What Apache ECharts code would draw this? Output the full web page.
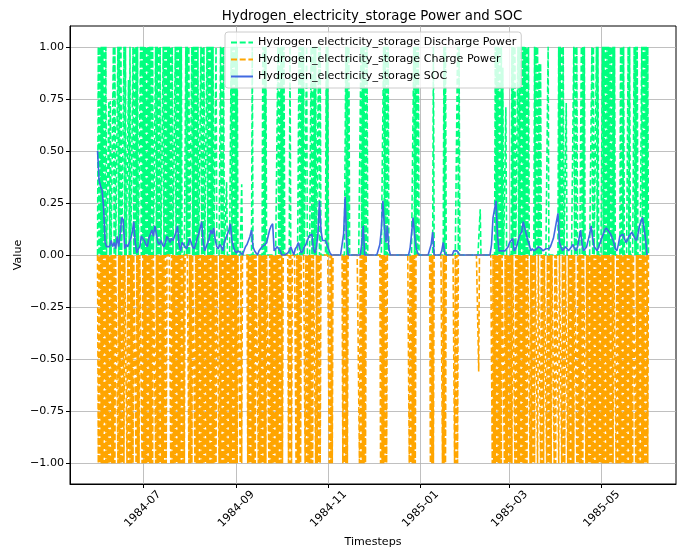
<!DOCTYPE html>
<html>
<head>
<meta charset="utf-8">
<script src="https://cdn.jsdelivr.net/npm/echarts@6/dist/echarts.min.js"></script>
<style>
  html, body { margin: 0; padding: 0; background: #ffffff; }
  #chart { width: 689px; height: 550px; }
</style>
</head>
<body>
<div id="chart"></div>
<script>
// Daily storage profile, 1984-06-01 .. 1985-05-31 (365 days)
const startDate = '1984-06-01';

// Peak discharge power per day (normalised, 0..1)
const dischargeDaily = [
  1,1,1,1,1,1,0,0.74,0.74,0,   1,1,0,1,1,1,0,1,1,0,
  0.84,1,0,1,1,1,1,0,1,1,      1,1,1,1,1,1,1,0,1,1,
  1,1,0,1,1,1,1,1,1,1,         0,1,1,1,1,1,0,0,1,1,
  1,0,1,1,1,1,1,0,1,1,         1,0,1,1,1,1,1,0,1,0,
  0,1,1,1,0,0.35,0,0,1,1,      1,1,1,0,0,0.34,0,0,0,0,
  0,0,1,0,0,0,0,0,0,1,         1,1,0,0,0,0,0,0,0,1,
  1,1,1,1,0,0,0,1,0,0,         0,0,0,1,1,1,1,0,1,0,
  0,1,1,1,1,0,1,1,0,0,         0,1,1,0,0,0,0,0,0,0,
  0,0,0,0,1,1,1,0,0,0,         0,0,0,0,1,1,1,1,1,0,
  0,0,0,0,0,0,0,0,0,1,         1,1,1,0,0,0,0,0,0,0,
  0,0,0,0,0,0,0,0,0,1,         1,1,1,0,0,0,0,0,0,0,
  0,0,1,0,0,0,0,0,0,1,         1,0,0,0,0,0,0,0,1,1,
  0,0,0,0,0,0,0,0,0,0,         0,0,0,0.22,0,0,0,0,0,0,
  0,0,0,1,1,1,1,1,0.9,0,       0.71,0,0,0,1,1,1,0,1,1,
  1,1,1,1,1,1,0,0,0,1,         1,1,0.92,0.92,0,0,0,0,1,0,
  0,0,0,0,0,1,1,1,1,0,         0.73,0,0,0,0,1,1,1,0,0,
  1,1,1,0,0,0,0,1,1,0,         1,1,0,0,1,1,1,1,1,1,
  1,1,1,0,0,0,1,1,1,0,         0,1,1,0,0,1,1,1,0,0,
  1,1,1,1,1
];

// Peak charge power per day (magnitude, drawn as negative)
const chargeDaily = [
  1,1,1,1,1,1,1,1,1,1,         1,1,0,1,1,1,1,1,0,1,
  1,1,1,1,0,1,1,1,0,1,         1,1,1,1,1,1,1,0,1,1,
  1,1,1,1,1,1,0,0,1,1,         1,1,1,1,1,1,1,1,0,0,
  1,1,1,0,1,1,1,1,1,1,         1,1,1,1,1,1,1,1,1,0,
  1,1,1,1,1,1,1,1,1,1,         1,1,1,0,1,1,0,0,0,1,
  1,1,1,1,1,0,1,1,1,1,         1,1,0,1,1,1,1,1,1,1,
  1,1,1,0,0,0,1,1,1,0,         0,1,1,1,1,0,0,1,1,1,
  1,1,1,0,1,1,1,1,0,0,         0,0,0,1,1,1,0,0,0,0,
  0,0,1,1,1,1,0,0,0,0,         0,0,0,1,1,1,1,1,0,0,
  0,0,0,0,0,0,0,1,1,1,         1,1,0,0,0,0,0,0,0,0,
  0,0,0,0,0,0,1,1,1,1,         1,0,0,0,0,0,0,0,0,0,
  1,1,1,0,0,0,0,0,1,1,         1,0,0,0,0,0,1,1,1,0,
  0,0,0,0,0,0,0,0,0,0,         0,0,0.56,0,0,0,0,0,0,0,
  0,1,1,1,1,1,1,1,0,1,         1,1,1,1,1,0,1,1,1,1,
  1,1,1,1,1,0,1,1,1,1,         0,1,0,1,1,1,0,1,1,1,
  1,0,1,1,0,1,0,1,1,1,         0,1,1,1,1,1,0,1,1,1,
  1,1,0,1,1,1,1,1,1,1,         1,1,1,1,1,1,1,1,1,1,
  1,1,0,1,1,1,1,1,1,1,         1,1,1,1,1,0,1,1,1,1,
  1,1,1,1,1
];

// State of charge at the start of each day
const socDaily = [
  0.50,0.36,0.33,0.31,0.23,0.06,0.04,0.04,0.04,0.07,
  0.04,0.06,0.03,0.09,0.04,0.10,0.18,0.17,0.03,0.05,
  0.04,0.06,0.08,0.11,0.16,0.06,0.01,0.03,0.04,0.09,
  0.08,0.07,0.05,0.04,0.08,0.10,0.12,0.09,0.14,0.14,
  0.06,0.05,0.07,0.05,0.04,0.06,0.09,0.09,0.06,0.08,
  0.07,0.09,0.11,0.14,0.05,0.02,0.06,0.05,0.04,0.03,
  0.05,0.08,0.06,0.04,0.03,0.05,0.08,0.10,0.13,0.16,
  0.06,0.02,0.04,0.06,0.08,0.12,0.10,0.13,0.07,0.04,
  0.03,0.05,0.04,0.02,0.06,0.08,0.10,0.12,0.15,0.07,
  0.04,0.02,0.01,0.02,0.02,0.01,0.00,0.02,0.04,0.05,
  0.07,0.09,0.12,0.04,0.02,0.01,0.00,0.02,0.03,0.04,
  0.04,0.05,0.06,0.09,0.12,0.14,0.15,0.02,0.03,0.04,
  0.04,0.02,0.00,0.00,0.00,0.00,0.01,0.02,0.04,0.02,
  0.00,0.03,0.04,0.06,0.03,0.01,0.02,0.04,0.05,0.07,
  0.09,0.09,0.10,0.03,0.01,0.04,0.10,0.26,0.12,0.07,
  0.07,0.07,0.05,0.03,0.01,0.00,0.00,0.00,0.00,0.00,
  0.00,0.00,0.00,0.10,0.28,0.07,0.00,0.00,0.00,0.00,
  0.00,0.00,0.00,0.00,0.00,0.05,0.14,0.00,0.00,0.00,
  0.00,0.00,0.00,0.00,0.00,0.00,0.00,0.05,0.12,0.26,
  0.14,0.06,0.14,0.03,0.00,0.00,0.00,0.00,0.00,0.00,
  0.00,0.00,0.00,0.00,0.00,0.00,0.00,0.03,0.10,0.18,
  0.10,0.04,0.01,0.00,0.00,0.00,0.00,0.00,0.00,0.00,
  0.00,0.05,0.11,0.00,0.00,0.00,0.00,0.00,0.02,0.06,
  0.01,0.00,0.00,0.00,0.00,0.00,0.02,0.02,0.02,0.02,
  0.00,0.00,0.00,0.00,0.00,0.00,0.00,0.00,0.00,0.00,
  0.00,0.00,0.00,0.00,0.00,0.00,0.00,0.00,0.00,0.00,
  0.00,0.05,0.18,0.22,0.26,0.09,0.02,0.02,0.02,0.02,
  0.02,0.02,0.04,0.06,0.07,0.08,0.02,0.03,0.05,0.08,
  0.10,0.11,0.16,0.13,0.10,0.07,0.05,0.02,0.03,0.02,
  0.02,0.03,0.04,0.04,0.03,0.02,0.02,0.03,0.03,0.03,
  0.04,0.06,0.08,0.12,0.16,0.20,0.06,0.04,0.02,0.03,
  0.04,0.03,0.02,0.02,0.04,0.05,0.03,0.02,0.04,0.08,
  0.12,0.05,0.02,0.03,0.04,0.07,0.10,0.14,0.08,0.04,
  0.03,0.02,0.04,0.06,0.08,0.10,0.12,0.13,0.12,0.12,
  0.10,0.08,0.06,0.03,0.02,0.05,0.09,0.09,0.10,0.08,
  0.06,0.07,0.09,0.10,0.11,0.11,0.08,0.07,0.10,0.14,
  0.16,0.18,0.13,0.08,0.00
];

const monthTicks = ['1984-07-01', '1984-09-01', '1984-11-01', '1985-01-01', '1985-03-01', '1985-05-01'];
const valueTicks = [-1, -0.75, -0.5, -0.25, 0, 0.25, 0.5, 0.75, 1];

const seriesNames = [
  'Hydrogen_electricity_storage Discharge Power',
  'Hydrogen_electricity_storage Charge Power',
  'Hydrogen_electricity_storage SOC'
];

const DAY = 86400000;
const t0 = Date.parse(startDate + 'T00:00:00Z');
const nDays = socDaily.length;
const tEnd = t0 + nDays * DAY - 3600000;
const pad = (tEnd - t0) * 0.05;
const monthTickTimes = monthTicks.map(d => Date.parse(d + 'T00:00:00Z'));

// Each day: back to zero at the start, the day's peak at noon
function powerSeries(values, sign) {
  const out = [];
  values.forEach((v, i) => {
    out.push([t0 + i * DAY, 0]);
    out.push([t0 + i * DAY + DAY / 2, sign * v]);
  });
  out.push([tEnd, 0]);
  return out;
}
const dischargeData = powerSeries(dischargeDaily, 1);
const chargeData = powerSeries(chargeDaily, -1);
const socData = socDaily.map((v, i) => [t0 + i * DAY, v]);

const FONT = 'DejaVu Sans';
const minus = s => s.replace('-', '\u2212');
const monthLabel = v => {
  const d = new Date(v);
  return d.getUTCFullYear() + '-' + String(d.getUTCMonth() + 1).padStart(2, '0');
};
const DASH = [6, 2.7];

const chart = echarts.init(document.getElementById('chart'), null, { renderer: 'canvas' });
chart.setOption({
  animation: false,
  backgroundColor: '#ffffff',
  title: {
    text: 'Hydrogen_electricity_storage Power and SOC',
    left: 367, top: 5, textAlign: 'center',
    textStyle: { fontFamily: FONT, fontSize: 13.3, fontWeight: 'normal', color: '#000' }
  },
  legend: {
    orient: 'vertical',
    left: 225, top: 32,
    itemWidth: 22, itemHeight: 8, itemGap: 6,
    padding: [5, 5, 6, 5],
    backgroundColor: 'rgba(255,255,255,0.8)',
    borderColor: '#cccccc', borderWidth: 1, borderRadius: 3,
    itemStyle: { opacity: 0 },
    textStyle: { fontFamily: FONT, fontSize: 11.1, color: '#000' },
    data: seriesNames
  },
  grid: {
    left: 70, right: 13, top: 26, bottom: 66,
    show: true, borderColor: '#000', borderWidth: 1,
    containLabel: false, outerBoundsMode: 'none'
  },
  xAxis: {
    type: 'value',
    min: t0 - pad, max: tEnd + pad,
    name: 'Timesteps', nameLocation: 'middle', nameGap: 50,
    nameTextStyle: { fontFamily: FONT, fontSize: 11.1, color: '#000' },
    axisLine: { show: true, onZero: false, lineStyle: { color: '#000', width: 1 } },
    axisTick: { show: true, length: 4, lineStyle: { color: '#000' }, customValues: monthTickTimes },
    axisLabel: {
      customValues: monthTickTimes,
      formatter: monthLabel,
      rotate: 45, align: 'center', verticalAlign: 'middle', margin: 25,
      fontFamily: FONT, fontSize: 11.1, color: '#000', hideOverlap: false
    },
    splitLine: { show: true, lineStyle: { color: '#b0b0b0', width: 0.8 } }
  },
  yAxis: {
    type: 'value',
    min: -1.1, max: 1.1,
    name: 'Value', nameLocation: 'middle', nameGap: 46, nameRotate: 90,
    nameMoveOverlap: false,
    nameTextStyle: { fontFamily: FONT, fontSize: 11.1, color: '#000' },
    axisLine: { show: true, lineStyle: { color: '#000', width: 1 } },
    axisTick: { show: true, length: 4, lineStyle: { color: '#000' }, customValues: valueTicks },
    axisLabel: {
      customValues: valueTicks,
      formatter: v => minus(v.toFixed(2)),
      fontFamily: FONT, fontSize: 11.1, color: '#000', margin: 6
    },
    splitLine: { show: true, lineStyle: { color: '#b0b0b0', width: 0.8 } }
  },
  series: [
    {
      name: seriesNames[0], type: 'line', data: dischargeData,
      symbol: 'none', color: '#00ff7f',
      lineStyle: { color: '#00ff7f', width: 1.6, type: DASH }
    },
    {
      name: seriesNames[1], type: 'line', data: chargeData,
      symbol: 'none', color: '#ffa500',
      lineStyle: { color: '#ffa500', width: 1.6, type: DASH }
    },
    {
      name: seriesNames[2], type: 'line', data: socData,
      symbol: 'none', color: '#4169e1',
      lineStyle: { color: '#4169e1', width: 1.6 }
    }
  ]
});
</script>
</body>
</html>
